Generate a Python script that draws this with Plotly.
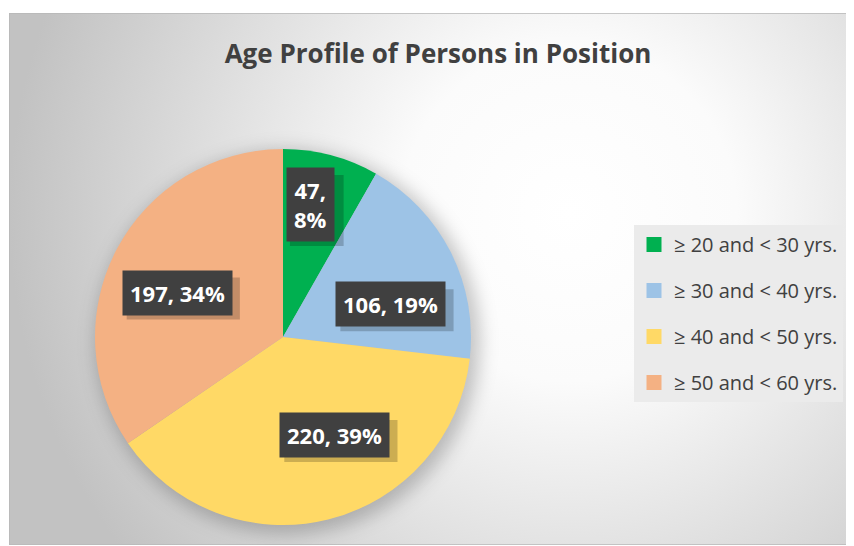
import base64
import math
import plotly.graph_objects as go

# ---- data ----
categories = ["≥ 20 and < 30 yrs.", "≥ 30 and < 40 yrs.", "≥ 40 and < 50 yrs.", "≥ 50 and < 60 yrs."]
counts = [47, 106, 220, 197]
pct_labels = ["8%", "19%", "39%", "34%"]
colors = ["#00b050", "#9dc3e6", "#ffd966", "#f4b183"]

# label placement tweaks (layout only): radial fraction and angle offset (deg)
label_r = [0.72, 0.60, 0.59, 0.61]
label_dang = [-3, 10, -14, -5]
label_break = [True, False, False, False]

W, H = 854, 546
OFF = 8  # page body margin: convert page pixel coords to figure coords


def px(x):
    return (x - OFF) / W


def py(y):
    return 1 - (y - OFF) / H


# pie geometry in page pixels
pcx, pcy, pr = 283, 337, 188
dom_x = [px(pcx - pr), px(pcx + pr)]
dom_y = [py(pcy + pr), py(pcy - pr)]

# background: radial gradient + soft pie shadow as svg image (figure coords)
bx0, by0 = 9 - OFF, 13 - OFF
bw, bh = W - bx0, 545 - 13
svg = f'''<svg xmlns="http://www.w3.org/2000/svg" width="{bw}" height="{bh}" viewBox="0 0 {bw} {bh}">
<defs>
<radialGradient id="g" gradientUnits="userSpaceOnUse" cx="560" cy="200" r="560">
<stop offset="0" stop-color="#ffffff"/>
<stop offset="0.3" stop-color="#fbfbfb"/>
<stop offset="1" stop-color="#c2c2c2"/>
</radialGradient>
<filter id="b" x="-30%" y="-30%" width="160%" height="160%"><feGaussianBlur stdDeviation="9"/></filter>
</defs>
<rect x="0" y="0" width="{bw + 10}" height="{bh}" fill="url(#g)" stroke="#b8b8b8" stroke-width="1.5"/>
<circle cx="{pcx - 9 + 5}" cy="{pcy - 13 + 5}" r="{pr + 4}" fill="rgba(0,0,0,0.22)" filter="url(#b)"/>
</svg>'''
src = "data:image/svg+xml;base64," + base64.b64encode(svg.encode()).decode()

fig = go.Figure()
fig.add_trace(go.Pie(
    labels=categories, values=counts, sort=False, direction="clockwise", rotation=0,
    marker=dict(colors=colors, line=dict(width=0)),
    textinfo="none", hoverinfo="label+value+percent", showlegend=False,
    domain=dict(x=dom_x, y=dom_y),
))

# legend proxies
for i, (c, col) in enumerate(zip(categories, colors)):
    fig.add_trace(go.Scatter(
        x=[None], y=[None], mode="markers", name=c, legendgroup=f"g{i}",
        marker=dict(symbol="square", size=15, color=col), hoverinfo="skip",
    ))

# data labels (dark boxes with a soft offset shadow)
total = sum(counts)
cum = 0
annotations = []
shapes = []
for i, v in enumerate(counts):
    mid = (cum + v / 2) / total * 360 + label_dang[i]
    cum += v
    rr = pr * label_r[i]
    lx = pcx + rr * math.sin(math.radians(mid))
    ly = pcy - rr * math.cos(math.radians(mid))
    if label_break[i]:
        lines = [f"{v},", pct_labels[i]]
    else:
        lines = [f"{v}, {pct_labels[i]}"]
    txt = "<b>" + "<br>".join(lines) + "</b>"
    # approximate box size for the shadow
    bwid = max(len(s) for s in lines) * 11.9 + 18
    bhei = len(lines) * 29 + 13
    sx, sy = lx + 6, ly + 6
    shapes.append(dict(
        type="rect", xref="paper", yref="paper", layer="above",
        x0=px(sx - bwid / 2), x1=px(sx + bwid / 2), y0=py(sy + bhei / 2), y1=py(sy - bhei / 2),
        fillcolor="rgba(0,0,0,0.2)", line=dict(width=0),
    ))
    annotations.append(dict(
        x=px(lx), y=py(ly), xref="paper", yref="paper", text=txt,
        xanchor="center", yanchor="middle",
        showarrow=False, font=dict(size=22, color="#ffffff", family="Open Sans"),
        bgcolor="#404040", borderpad=7,
    ))

fig.update_layout(
    width=W, height=H, margin=dict(l=0, r=0, t=0, b=0),
    paper_bgcolor="#ffffff", plot_bgcolor="rgba(0,0,0,0)",
    title=dict(text="<b>Age Profile of Persons in Position</b>", x=px(438), xanchor="center",
               y=py(54), yanchor="middle",
               font=dict(family="Open Sans", size=26, color="#404040")),
    xaxis=dict(visible=False), yaxis=dict(visible=False),
    legend=dict(x=px(634), y=py(225), xanchor="left", yanchor="top",
                bgcolor="#ebebeb", font=dict(family="Open Sans", size=20, color="#404040"),
                tracegroupgap=17, itemclick=False, itemdoubleclick=False),
    images=[dict(source=src, xref="paper", yref="paper", x=bx0 / W, y=1 - by0 / H,
                 sizex=bw / W, sizey=bh / H, xanchor="left", yanchor="top",
                 sizing="stretch", layer="below")],
    shapes=shapes,
    annotations=annotations,
)

fig.write_html("out.html")
